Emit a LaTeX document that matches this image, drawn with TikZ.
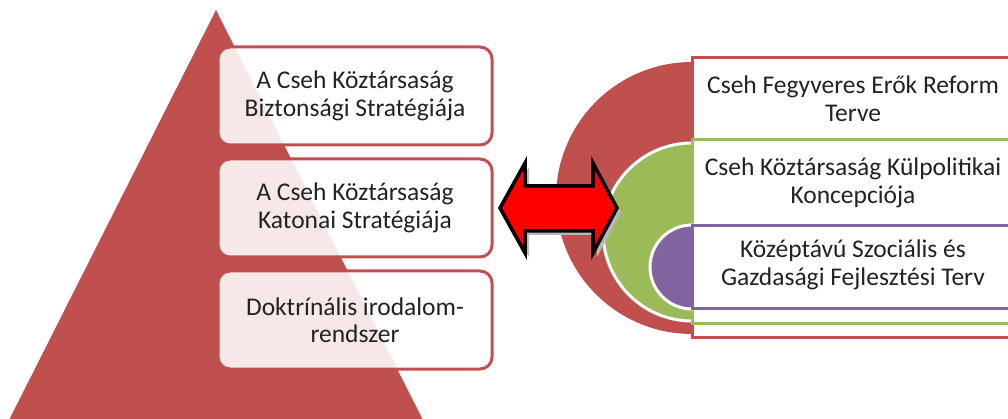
\documentclass[tikz,border=0pt]{standalone}
\usepackage{fontspec}
\setmainfont{Carlito}
\definecolor{redc}{HTML}{C0504D}
\definecolor{greenc}{HTML}{9BBB59}
\definecolor{purplec}{HTML}{8064A2}
\definecolor{txt}{HTML}{222222}
\begin{document}
\begin{tikzpicture}[x=1pt,y=-1pt,
  pbox/.style={draw=redc, line width=3pt, rounded corners=12pt, fill=white, fill opacity=0.87, text opacity=1,
    minimum width=274pt, minimum height=98pt, align=center, text=txt, font=\fontsize{25.5}{27.5}\selectfont},
  rtext/.style={align=center, text=txt, font=\fontsize{25.5}{28}\selectfont},
  rrect/.style={fill=white, line width=3pt}
]
\useasboundingbox (0,0) rectangle (1008,419);
\clip (0,0) rectangle (1008,419);
% pyramid
\fill[redc] (216,10) -- (4,430) -- (428,430) -- cycle;
\node[pbox] (b1) at (355,96) {A Cseh Köztársaság\\Biztonsági Stratégiája};
\node[pbox] (b2) at (355,208) {A Cseh Köztársaság\\Katonai Stratégiája};
\node[pbox] (b3) at (355,320) {Doktrínális irodalom-\\rendszer};
% right nested
\fill[redc] (692,198) circle (136);
\draw[rrect, draw=redc] (692,58) rectangle (1030,337);
\filldraw[fill=greenc, draw=white, line width=3pt] (692,232) circle (89);
\draw[rrect, draw=greenc] (692,140) rectangle (1030,323);
\filldraw[fill=purplec, draw=white, line width=3pt] (692,267) circle (42);
\draw[rrect, draw=purplec] (692,226) rectangle (1030,308);
\node[rtext] (t1) at (853,99) {Cseh Fegyveres Erők Reform\\Terve};
\node[rtext] (t2) at (853,183) {Cseh Köztársaság Külpolitikai\\Koncepciója};
\node[rtext] (t3) at (853,265) {Középtávú Szociális és\\Gazdasági Fejlesztési Terv};
% double arrow
\begin{scope}[shift={(4,4)}]
\fill[gray!55] (500,208) -- (525,163) -- (525,186) -- (593,186) -- (593,163) -- (617,208) -- (593,253) -- (593,231) -- (525,231) -- (525,253) -- cycle;
\end{scope}
\filldraw[fill=red, draw=black, line width=3.5pt, line join=miter] (500,208) -- (525,163) -- (525,186) -- (593,186) -- (593,163) -- (617,208) -- (593,253) -- (593,231) -- (525,231) -- (525,253) -- cycle;
\end{tikzpicture}
\end{document}
